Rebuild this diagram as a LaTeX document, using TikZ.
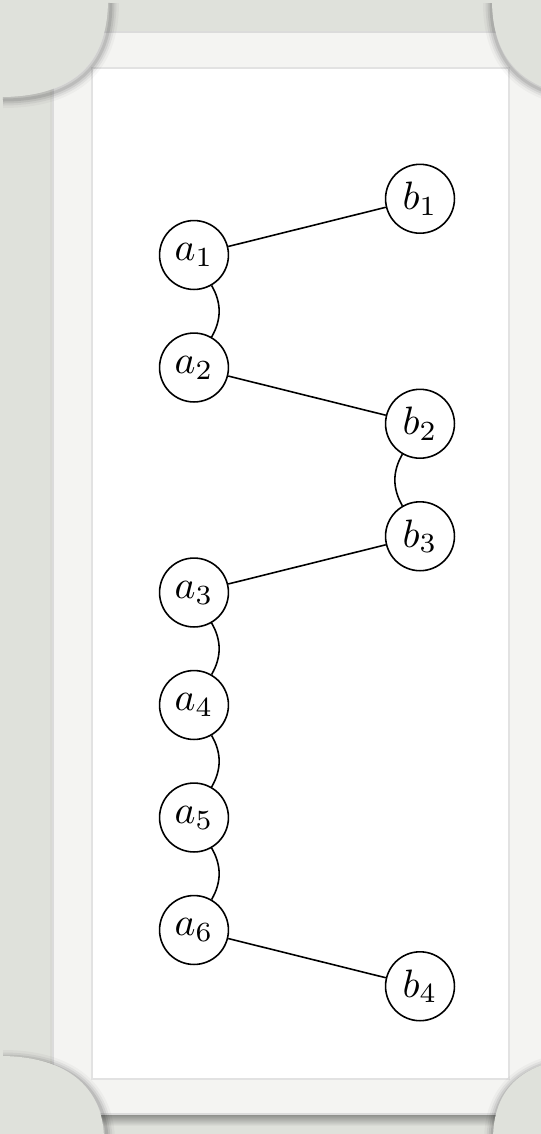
\documentclass[tikz,border=0pt]{standalone}
\definecolor{linen}{RGB}{223,225,219}
\definecolor{framecol}{RGB}{244,244,242}
\definecolor{panelline}{RGB}{226,226,226}
\begin{document}
\begin{tikzpicture}[x=0.2525pt,y=-0.2525pt,
  vertex/.style={circle,draw,line width=0.4pt,inner sep=0pt,minimum size=17.4pt},
  link/.style={line width=0.4pt},
  blobshade/.style={black,opacity=#1},
  tl/.style={insert path={(0,97) .. controls (70,97) and (108,65) .. (108,0)}},
  tr/.style={insert path={(492,0) .. controls (492,65) and (530,97) .. (600,97)}},
  bl/.style={insert path={(0,1056) .. controls (70,1056) and (104,1090) .. (104,1140)}},
  br/.style={insert path={(493,1140) .. controls (493,1090) and (520,1057) .. (600,1056)}}]

\useasboundingbox (0,0) rectangle (541,1134);

% linen backdrop
\fill[linen] (-10,-10) rectangle (551,1144);

% soft shadow under the paper frame
\foreach \w/\o in {6/0.03,3/0.05}
  \draw[black,opacity=\o,line width=\w*0.2525pt] (53,34) rectangle (547,1114);
\shade[top color=black!45!linen,bottom color=linen] (70,1112) rectangle (547,1126);
\shade[top color=black!20!linen,bottom color=linen] (50,1112) rectangle (70,1126);

% paper frame and white panel
\fill[framecol] (53,32) rectangle (547,1114);
\draw[black!14,line width=0.3pt] (53,32) rectangle (547,1114);
\fill[white] (92,68) rectangle (509,1079);
\draw[panelline,line width=0.35pt] (92,68) rectangle (509,1079);

% corner pockets with their shadows
\foreach \w/\o in {16/0.03,11/0.05,7/0.07,3/0.09}{
  \draw[blobshade=\o,line width=\w*0.2525pt,shift={(3,3)},tl];
  \draw[blobshade=\o,line width=\w*0.2525pt,shift={(-1,3)},tr];
  \draw[blobshade=\o,line width=\w*0.2525pt,shift={(3,2)},bl];
  \draw[blobshade=\o,line width=\w*0.2525pt,shift={(-1,2)},br];
}
\fill[linen,tl] -- (-10,-10) -- cycle;
\fill[linen,tr] -- (600,-10) -- cycle;
\fill[linen,bl] -- (-10,1144) -- cycle;
\fill[linen,br] -- (600,1144) -- cycle;

% graph
\node[vertex] (a1) at (194,255)   {$a_1$};
\node[vertex] (a2) at (194,367.5) {$a_2$};
\node[vertex] (a3) at (194,592.5) {$a_3$};
\node[vertex] (a4) at (194,705)   {$a_4$};
\node[vertex] (a5) at (194,817.5) {$a_5$};
\node[vertex] (a6) at (194,930)   {$a_6$};
\node[vertex] (b1) at (420,198.75) {$b_1$};
\node[vertex] (b2) at (420,423.75) {$b_2$};
\node[vertex] (b3) at (420,536.25) {$b_3$};
\node[vertex] (b4) at (420,986.25) {$b_4$};

\draw[link] (a1) -- (b1);
\draw[link] (a2) -- (b2);
\draw[link] (b3) -- (a3);
\draw[link] (a6) -- (b4);
\draw[link] (a1) to[bend left] (a2);
\draw[link] (a3) to[bend left] (a4);
\draw[link] (a4) to[bend left] (a5);
\draw[link] (a5) to[bend left] (a6);
\draw[link] (b2) to[bend right] (b3);
\end{tikzpicture}
\end{document}
